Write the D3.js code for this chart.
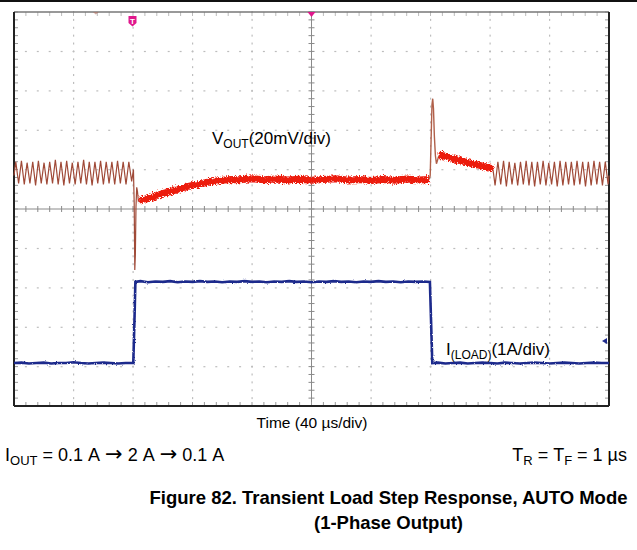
<!DOCTYPE html>
<html><head><meta charset="utf-8">
<script src="https://cdn.jsdelivr.net/npm/d3@7"></script>
<style>
body{margin:0;background:#fff}
svg{display:block}
text{font-family:"Liberation Sans",Arial,Helvetica,sans-serif;fill:#000}
</style>
</head><body>
<svg id="c" width="637" height="550"></svg>
<script>
// ---------- data (time in µs, Vout deviation in mV, Iload in A) ----------
const timeTicks = [0, 40, 80, 120, 160, 200, 240, 280, 320, 360, 400];
const divTicks = [-5, -4, -3, -2, -1, 0, 1, 2, 3, 4, 5];
const minorPerDiv = 5;
const voutPerDiv = 20;      // mV/div
const voutOffsetDiv = 0.75; // channel position
const iloadPerDiv = 1;      // A/div
const iloadOffsetDiv = -4.0;
const triggerTime = 80;

const voutRippleBefore = [
  [0,2],[1.2,9],[3.1,-2],[5.0,9.5],[6.9,-2.5],[8.8,8.5],[10.7,-2],[12.6,9],[14.5,-3],[16.4,9.5],
  [18.3,-2],[20.2,8.5],[22.1,-2.5],[24.0,9],[25.9,-2],[27.8,10],[29.7,-2.5],[31.6,9],[33.5,-3],[35.4,9.5],
  [37.3,-2],[39.2,8.5],[41.1,-2.5],[43.0,9],[44.9,-2],[46.8,10],[48.7,-2.5],[50.6,9],[52.5,-3],[54.4,9],
  [56.3,-2],[58.2,9.5],[60.1,-2.5],[62.0,9],[63.9,-2],[65.8,9],[67.7,-2.5],[69.6,9.5],[71.5,-2],[73.4,9],
  [75.3,-2.5],[77.2,9],[79.1,-1],[80.3,5],
  [80.8,-12],[81.2,-46],[81.6,-38],[82.0,-14],[82.5,-4],[83.0,-6],[83.6,-11],[84.2,-10.5]
];
const voutRecovery = [
  [84.2,-10.5],[88,-10],[92,-9.2],[96,-8.2],[100,-7.2],[104,-6.3],[108,-5.5],[112,-4.6],[116,-3.8],
  [120,-3],[124,-2.5],[128,-1.8],[132,-1.3],[136,-0.8],[140,-0.4],[146,0],[152,-0.2],[160,0.3],
  [168,-0.2],[176,0.2],[184,-0.3],[192,0.1],[200,-0.4],[208,0],[216,0.3],[224,-0.3],[232,0],
  [240,-0.5],[248,0],[256,-0.4],[264,0.2],[272,-0.3],[279,0]
];
const voutOvershoot = [
  [279,0],[279.8,2],[280.4,20],[281.0,38],[281.5,41],[282.0,36],[282.6,22],[283.3,12],[284.0,8],
  [284.8,10],[285.6,12]
];
const voutDecay = [
  [285.6,12],[288,12.2],[291,11.4],[295,10.6],[299,9.8],[303,9],[307,8.2],[311,7.5],[315,6.8],
  [319,6],[322,5.2]
];
const voutRippleAfter = [
  [322,5.2],[323.4,-3],[325.3,9],[327.2,-2.5],[329.1,9.5],[331.0,-3.5],[332.9,9],[334.8,-2.5],[336.7,8.5],
  [338.6,-3],[340.5,9],[342.4,-2.5],[344.3,9.5],[346.2,-3],[348.1,9],[350.0,-3.5],[351.9,9],[353.8,-2.5],
  [355.7,9.5],[357.6,-3],[359.5,8.5],[361.4,-2.5],[363.3,9],[365.2,-3.5],[367.1,9.5],[369.0,-3],[370.9,9],
  [372.8,-2.5],[374.7,9],[376.6,-3],[378.5,9.5],[380.4,-2.5],[382.3,9],[384.2,-3.5],[386.1,9],[388.0,-3],
  [389.9,9.5],[391.8,-2.5],[393.7,9],[395.6,-3],[397.5,9],[399.4,-2.5],[400,2]
];
const iloadData = [
  [0,0.09],[5,0.1],[10,0.08],[15,0.09],[20,0.1],[25,0.08],[30,0.09],[35,0.09],[40,0.11],[45,0.09],
  [50,0.08],[55,0.09],[60,0.1],[65,0.09],[70,0.08],[75,0.09],[80.2,0.09],
  [81.0,1.2],[81.6,2.15],
  [85,2.17],[90,2.14],[95,2.16],[100,2.15],[105,2.17],[110,2.14],[115,2.16],[120,2.15],[125,2.17],
  [130,2.15],[135,2.16],[140,2.14],[145,2.16],[150,2.15],[155,2.17],[160,2.15],[165,2.16],[170,2.14],
  [175,2.16],[180,2.15],[185,2.17],[190,2.15],[195,2.16],[200,2.14],[205,2.16],[210,2.15],[215,2.17],
  [220,2.15],[225,2.16],[230,2.14],[235,2.16],[240,2.15],[245,2.17],[250,2.15],[255,2.16],[260,2.14],
  [265,2.16],[270,2.15],[275,2.16],[279.6,2.15],
  [280.5,1.0],[281.2,0.09],
  [285,0.1],[290,0.08],[295,0.09],[300,0.1],[305,0.08],[310,0.09],[315,0.1],[320,0.09],[325,0.08],
  [330,0.1],[335,0.09],[340,0.08],[345,0.09],[350,0.1],[355,0.09],[360,0.08],[365,0.09],[370,0.1],
  [375,0.09],[380,0.08],[385,0.09],[390,0.1],[395,0.09],[400,0.09]
];
const iloadMarkerDiv = -3.35;

// ---------- drawing ----------
const svg = d3.select("#c");
const x = d3.scaleLinear().domain([0, 400]).range([14, 609]);
const y = d3.scaleLinear().domain([-5, 5]).range([406, 12]);

const defs = svg.append("defs");
const f = defs.append("filter").attr("id","noise").attr("filterUnits","userSpaceOnUse")
  .attr("x",0).attr("y",0).attr("width",637).attr("height",550);
f.append("feTurbulence").attr("type","fractalNoise").attr("baseFrequency","1.2 0.7")
  .attr("numOctaves",2).attr("seed",4).attr("result","n");
f.append("feDisplacementMap").attr("in","SourceGraphic").attr("in2","n").attr("scale",6)
  .attr("xChannelSelector","R").attr("yChannelSelector","G");
const f2 = defs.append("filter").attr("id","noise2").attr("filterUnits","userSpaceOnUse")
  .attr("x",0).attr("y",0).attr("width",637).attr("height",550);
f2.append("feTurbulence").attr("type","fractalNoise").attr("baseFrequency","0.9 0.9")
  .attr("numOctaves",1).attr("seed",7).attr("result","n");
f2.append("feDisplacementMap").attr("in","SourceGraphic").attr("in2","n").attr("scale",2.5)
  .attr("xChannelSelector","R").attr("yChannelSelector","G");

// top rule
svg.append("rect").attr("x",0).attr("y",0).attr("width",637).attr("height",2).attr("fill","#111");

const g = svg.append("g");
// dotted grid
const minorX = d3.range(0, 400.001, 40 / minorPerDiv);
const minorY = d3.range(-5, 5.001, 1 / minorPerDiv);
divTicks.filter(d => d !== 0 && Math.abs(d) !== 5).forEach(d => {
  g.selectAll(null).data(minorX).enter().append("rect")
    .attr("x", t => x(t) - 1).attr("y", y(d) - 0.5).attr("width", 2).attr("height", 1.2)
    .attr("fill", "#bdbdbd");
});
timeTicks.filter(t => t !== 200 && t !== 0 && t !== 400).forEach(t => {
  g.selectAll(null).data(minorY).enter().append("rect")
    .attr("x", x(t) - 0.5).attr("y", d => y(d) - 1).attr("width", 1.2).attr("height", 2)
    .attr("fill", "#bdbdbd");
});
// center cross with minor ticks
g.append("line").attr("x1",x(0)).attr("x2",x(400)).attr("y1",y(0)).attr("y2",y(0))
  .attr("stroke","#8a8a8a").attr("stroke-width",1);
g.append("line").attr("x1",x(200)).attr("x2",x(200)).attr("y1",y(5)).attr("y2",y(-5))
  .attr("stroke","#8a8a8a").attr("stroke-width",1);
g.selectAll(null).data(minorX).enter().append("line")
  .attr("x1", t => x(t)).attr("x2", t => x(t)).attr("y1", y(0) - 3).attr("y2", y(0) + 3)
  .attr("stroke","#8a8a8a");
g.selectAll(null).data(minorY).enter().append("line")
  .attr("y1", d => y(d)).attr("y2", d => y(d)).attr("x1", x(200) - 3).attr("x2", x(200) + 3)
  .attr("stroke","#8a8a8a");
// edge ticks
g.selectAll(null).data(minorX).enter().append("line")
  .attr("x1", t => x(t)).attr("x2", t => x(t)).attr("y1", y(-5)).attr("y2", y(-5) - 4)
  .attr("stroke","#9a9a9a");
g.selectAll(null).data(minorX).enter().append("line")
  .attr("x1", t => x(t)).attr("x2", t => x(t)).attr("y1", y(5)).attr("y2", y(5) + 4)
  .attr("stroke","#bbbbbb");
g.selectAll(null).data(minorY).enter().append("line")
  .attr("y1", d => y(d)).attr("y2", d => y(d)).attr("x1", x(0)).attr("x2", x(0) + 4)
  .attr("stroke","#9a9a9a");
g.selectAll(null).data(minorY).enter().append("line")
  .attr("y1", d => y(d)).attr("y2", d => y(d)).attr("x1", x(400)).attr("x2", x(400) - 4)
  .attr("stroke","#9a9a9a");

// frame
svg.append("line").attr("x1",x(0)).attr("x2",x(400)).attr("y1",y(5)).attr("y2",y(5))
  .attr("stroke","#777").attr("stroke-width",1.5);
svg.append("line").attr("x1",x(0)).attr("x2",x(400)).attr("y1",y(-5)).attr("y2",y(-5))
  .attr("stroke","#222").attr("stroke-width",2);
svg.append("line").attr("x1",x(0)).attr("x2",x(0)).attr("y1",y(5)).attr("y2",y(-5))
  .attr("stroke","#222").attr("stroke-width",2);
svg.append("line").attr("x1",x(400)).attr("x2",x(400)).attr("y1",y(5)).attr("y2",y(-5))
  .attr("stroke","#222").attr("stroke-width",2);

// traces
const vLine = d3.line().x(d => x(d[0])).y(d => y(d[1] / voutPerDiv + voutOffsetDiv));
const iLine = d3.line().x(d => x(d[0])).y(d => y(d[1] / iloadPerDiv + iloadOffsetDiv));

svg.append("path").attr("d", iLine(iloadData)).attr("fill","none")
  .attr("stroke","#1f2b8c").attr("stroke-width",2.6).attr("filter","url(#noise2)");

svg.append("path").attr("d", vLine(voutRippleBefore)).attr("fill","none")
  .attr("stroke","#a04a38").attr("stroke-width",1.2);
svg.append("path").attr("d", vLine(voutRippleAfter)).attr("fill","none")
  .attr("stroke","#a04a38").attr("stroke-width",1.2);
svg.append("path").attr("d", vLine(voutOvershoot)).attr("fill","none")
  .attr("stroke","#b0604a").attr("stroke-width",1.4);
svg.append("path").attr("d", vLine(voutRecovery)).attr("fill","none")
  .attr("stroke","#ec1c0e").attr("stroke-width",7).attr("filter","url(#noise)");
svg.append("path").attr("d", vLine(voutDecay)).attr("fill","none")
  .attr("stroke","#ec1c0e").attr("stroke-width",7).attr("filter","url(#noise)");

// markers
const tx = x(triggerTime) - 0.5;
svg.append("path").attr("d", `M${tx-4},16 h8 v7 l-4,3.5 l-4,-3.5 z`).attr("fill","#e0178c");
svg.append("text").attr("x", tx).attr("y", 24).attr("text-anchor","middle")
  .style("font-size","8px").style("font-weight","bold").style("fill","#fff").text("T");
svg.append("path").attr("d", `M${x(200)-4},12 h8 l-4,5 z`).attr("fill","#e0178c");
svg.append("path").attr("d", `M${x(55)-3},12 h6 l-3,2.5 z`).attr("fill","#b07060").attr("opacity",0.6);
const my = y(iloadMarkerDiv);
svg.append("path").attr("d", `M${x(400)-7},${my} l5,-3 v6 z`).attr("fill","#1f2b8c");

// channel labels
const vl = svg.append("text").attr("x", 212).attr("y", 144).style("font-size","17px");
vl.append("tspan").text("V");
vl.append("tspan").attr("dy", 4).style("font-size","12px").text("OUT");
vl.append("tspan").attr("dy", -4).text("(20mV/div)");
const il = svg.append("text").attr("x", 446).attr("y", 355).style("font-size","17px");
il.append("tspan").text("I");
il.append("tspan").attr("dy", 4).style("font-size","12px").text("(LOAD)");
il.append("tspan").attr("dy", -4).text("(1A/div)");

// captions
const NB = "\u00A0";
svg.append("text").attr("x", 312).attr("y", 428).attr("text-anchor","middle")
  .style("font-size","15.5px").text("Time (40 µs/div)");
const io = svg.append("text").attr("x", 5).attr("y", 461).style("font-size","18px");
io.append("tspan").text("I");
io.append("tspan").attr("dy", 4).style("font-size","13px").text("OUT");
io.append("tspan").attr("dy", -4).text(NB + "=" + NB + "0.1" + NB + "A" + NB);
io.append("tspan").style("font-family","'DejaVu Sans'").style("font-size","21px").text("→");
io.append("tspan").text(NB + "2" + NB + "A" + NB);
io.append("tspan").style("font-family","'DejaVu Sans'").style("font-size","21px").text("→");
io.append("tspan").text(NB + "0.1" + NB + "A");
const tr = svg.append("text").attr("x", 627).attr("y", 461).attr("text-anchor","end").style("font-size","18px");
tr.append("tspan").text("T");
tr.append("tspan").attr("dy", 4).style("font-size","13px").text("R");
tr.append("tspan").attr("dy", -4).text(NB + "=" + NB + "T");
tr.append("tspan").attr("dy", 4).style("font-size","13px").text("F");
tr.append("tspan").attr("dy", -4).text(NB + "=" + NB + "1" + NB + "µs");
svg.append("text").attr("x", 388.5).attr("y", 504).attr("text-anchor","middle")
  .style("font-size","18.5px").style("font-weight","bold")
  .text("Figure 82. Transient Load Step Response, AUTO Mode");
svg.append("text").attr("x", 388.5).attr("y", 529).attr("text-anchor","middle")
  .style("font-size","18.5px").style("font-weight","bold").text("(1-Phase Output)");
</script>
</body></html>
